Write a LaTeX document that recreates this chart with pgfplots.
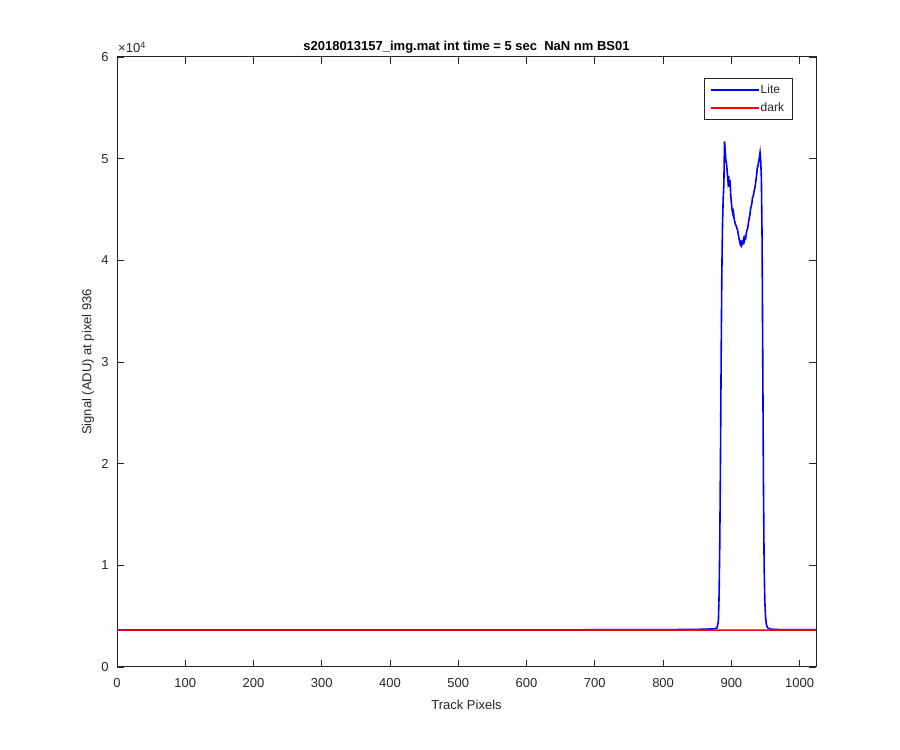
\documentclass[border=0pt]{standalone}
\usepackage{fontspec}
\setmainfont{Liberation Sans}
\usepackage{pgfplots}
\pgfplotsset{compat=1.18}

\definecolor{axgray}{rgb}{0.15,0.15,0.15}

\begin{document}
\begin{tikzpicture}[font=\fontsize{13bp}{15bp}\selectfont, x=1bp, y=1bp]
  \useasboundingbox (0,0) rectangle (900,750);
  \begin{axis}[
      at={(117bp,83bp)}, anchor=south west,
      scale only axis,
      width=699bp, height=610bp,
      xmin=0, xmax=1024, ymin=0, ymax=60000,
      xtick={0,100,...,1000},
      ytick={0,10000,...,60000},
      yticklabels={0,1,2,3,4,5,6},
      scaled y ticks=false, scaled x ticks=false,
      /pgf/number format/assume math mode=true,
      /pgf/number format/set thousands separator={},
      clip mode=individual,
      axis line style={axgray, line width=1bp},
      xtick pos=both, ytick pos=both,
      tick align=inside,
      tick style={axgray, line width=0.8bp},
      major tick length=7bp,
      ticklabel style={text=axgray},
      xticklabel style={yshift=-8bp},
      yticklabel style={xshift=-5bp},
      xlabel={Track Pixels},
      ylabel={Signal (ADU) at pixel 936},
      label style={text=axgray},
      xlabel style={at={(axis description cs:0.5,-0.0623)}, anchor=center},
      ylabel style={at={(axis description cs:-0.0415,0.5)}, anchor=center},
      title={\textbf{s2018013157\_img.mat int time = 5 sec\ \ NaN nm BS01}},
      title style={at={(axis description cs:0.5,1)}, anchor=center, yshift=4bp},
      legend style={at={(0.967,0.966)}, anchor=north east, draw=axgray,
        line width=0.8bp, font=\fontsize{12bp}{14bp}\selectfont,
        row sep=4.2bp, inner xsep=6.5bp, inner ysep=4.5bp},
      legend cell align=left,
    ]
    \addlegendimage{legend image code/.code={\fill[blue] (0bp,-0.8bp) rectangle (47bp,0.8bp);}}
    \addlegendimage{legend image code/.code={\fill[red] (0bp,-0.8bp) rectangle (47bp,0.8bp);}}
    \addplot[draw=blue, line width=1.6bp, forget plot] coordinates {
      (0,3640) (200,3640) (400,3645) (600,3650) (800,3670) (850,3700)
      (875,3750) (879,3850) (881,4500) (882,7000) (883,12000) (884,20000)
      (885,30000) (886,38500) (887,43500) (888,46000) (889,47500) (890,51700)
      (891,50800) (892,49800) (893,49500) (894,48600) (895,47800) (896,48300)
      (897,47200) (898,47900) (899,46500) (900,45700) (901,45000) (902,44600)
      (903,44800) (904,44100) (905,43800) (906,43500) (907,43400) (908,43200)
      (909,43000) (910,42600) (911,42200) (912,41900) (913,41600) (914,41800)
      (915,41500) (916,41800) (917,41700) (918,42100) (919,41900) (920,42300)
      (921,42200) (922,42700) (923,43000) (924,43200) (925,43700) (926,44100)
      (927,44400) (928,45000) (929,45300) (930,45600) (931,46200) (932,46300)
      (933,46700) (934,47000) (935,47300) (936,47900) (937,48400) (938,49100)
      (939,49300) (940,49700) (941,50100) (942,50600) (943,49800) (944,48000)
      (945,42000) (946,30000) (947,18000) (948,10000) (949,6500) (950,5000)
      (951,4300) (952,4000) (954,3800) (958,3720) (970,3680) (1024,3660)
    };
    \addplot[draw=red, line width=1.6bp, forget plot] coordinates {
      (0,3630) (256,3630) (512,3625) (768,3625) (1024,3625)
    };
    \legend{\textcolor{axgray}{Lite}, \textcolor{axgray}{dark}}
    \node[anchor=south west, text=axgray, inner sep=0pt, xshift=1bp, yshift=4bp]
      at (rel axis cs:0,1) {×10\textsuperscript{4}};
  \end{axis}
\end{tikzpicture}
\end{document}
